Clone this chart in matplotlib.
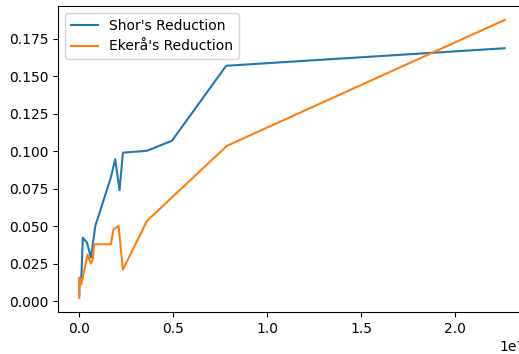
import matplotlib
matplotlib.use("Agg")
import matplotlib.pyplot as plt

# Shor's reduction series
shor_x = [0.02e6, 0.03e6, 0.12e6, 0.21e6, 0.43e6, 0.64e6, 0.87e6, 1.70e6, 1.93e6,
          2.16e6, 2.34e6, 3.62e6, 4.95e6, 7.83e6, 22.64e6]
shor_y = [0.004, 0.0156, 0.013, 0.0423, 0.039, 0.029, 0.050, 0.0825, 0.0947,
          0.074, 0.099, 0.1003, 0.107, 0.157, 0.1687]

# Ekerå's reduction series
ekera_x = [0.02e6, 0.03e6, 0.12e6, 0.24e6, 0.46e6, 0.64e6, 0.74e6, 0.81e6, 1.70e6,
           1.84e6, 2.11e6, 2.34e6, 3.62e6, 7.87e6, 22.64e6]
ekera_y = [0.002, 0.0156, 0.011, 0.018, 0.031, 0.025, 0.0279, 0.0379, 0.0379,
           0.0479, 0.0501, 0.021, 0.0535, 0.1036, 0.1876]

W, H = 519, 354
fig = plt.figure(figsize=(W / 100, H / 100), dpi=100)
# the saved picture is cropped on the right, so the axes run past the edge
ax = fig.add_axes([58 / W, (H - 312) / H, (526 - 58) / W, (312 - 6) / H])

ax.plot(shor_x, shor_y, label="Shor's Reduction")
ax.plot(ekera_x, ekera_y, label="Ekerå's Reduction")
ax.legend(loc="upper left")

fig.savefig("out.png", dpi=100)
